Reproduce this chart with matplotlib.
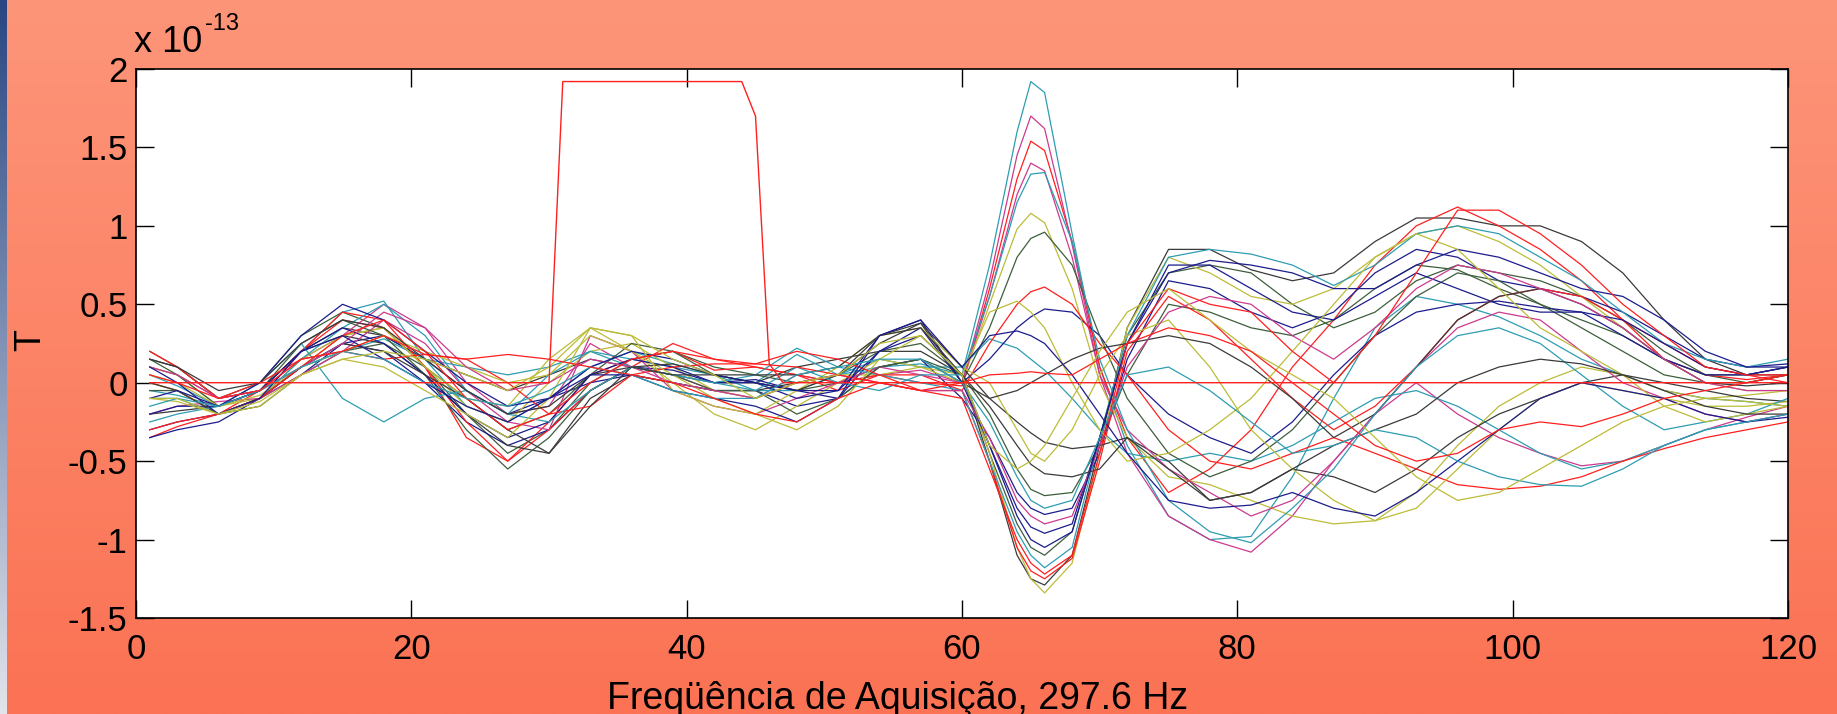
import numpy as np
import matplotlib
matplotlib.use("Agg")
import matplotlib.pyplot as plt

plt.rcParams['font.family'] = ['Liberation Sans', 'DejaVu Sans']

# sample index where each trace value was read
samples = [1, 3, 6, 9, 12, 15, 18, 21, 24, 27, 30, 33, 36, 39, 42, 45, 48, 51, 54, 57,
           60, 62, 64, 65, 66, 68, 70, 72,
           75, 78, 81, 84, 87, 90, 93, 96, 99, 102, 105, 108, 111, 114, 117, 120]

# traces (units of 1e-13 T), positive deflection around sample 65
p1_teal = [0.05, -0.02, -0.15, -0.05, 0.2, 0.45, 0.52, 0.15, -0.15, -0.25, -0.1, 0.1, 0.2, 0.12, 0.05, 0.0, 0.18, 0.05, 0.1, 0.12,
           0.05, 0.75, 1.6, 1.92, 1.85, 0.95, 0.1, -0.4,
           -0.85, -1.0, -0.98, -0.6, -0.1, 0.35, 0.55, 0.5, 0.42, 0.3, 0.15, 0.05, -0.05, -0.1, -0.12, -0.15]
p2_magenta = [0.1, 0.05, -0.1, -0.05, 0.15, 0.3, 0.5, 0.35, 0.0, -0.2, -0.15, 0.25, 0.1, 0.05, -0.05, -0.1, 0.05, 0.0, 0.05, 0.08,
              0.0, 0.65, 1.45, 1.7, 1.62, 0.88, 0.05, -0.45,
              -0.85, -1.0, -1.08, -0.85, -0.5, -0.2, 0.0, -0.2, -0.35, -0.45, -0.53, -0.5, -0.4, -0.3, -0.22, -0.15]
p3_red = [-0.35, -0.28, -0.2, -0.05, 0.2, 0.4, 0.35, 0.1, -0.35, -0.5, -0.25, 0.05, 0.15, 0.2, 0.08, 0.1, 0.05, -0.05, 0.05, 0.0,
          -0.02, 0.6, 1.3, 1.54, 1.48, 0.9, 0.1, -0.35,
          -0.7, -0.55, -0.3, 0.1, 0.4, 0.75, 1.0, 1.12, 1.0, 0.85, 0.65, 0.4, 0.15, 0.05, 0.02, 0.05]
p4_magenta = [-0.2, -0.15, -0.12, -0.1, 0.05, 0.2, 0.4, 0.25, -0.05, -0.25, -0.3, 0.3, 0.2, -0.05, -0.15, -0.2, -0.1, 0.0, 0.1, 0.05,
              0.0, 0.55, 1.2, 1.4, 1.35, 0.8, 0.05, -0.3,
              -0.55, -0.7, -0.85, -0.75, -0.5, -0.2, 0.1, 0.35, 0.45, 0.4, 0.2, 0.0, -0.1, -0.2, -0.25, -0.2]
p5_teal = [-0.25, -0.2, -0.15, 0.0, 0.25, -0.1, -0.25, -0.1, -0.05, -0.2, -0.25, -0.05, 0.1, 0.05, 0.0, -0.05, 0.1, 0.0, -0.05, 0.05,
           0.05, 0.55, 1.15, 1.33, 1.34, 0.9, 0.15, -0.3,
           -0.75, -0.95, -1.02, -0.8, -0.55, -0.2, 0.1, 0.3, 0.35, 0.25, 0.05, -0.15, -0.3, -0.25, -0.2, -0.1]
p6_olive = [0.0, -0.05, -0.2, -0.1, 0.15, 0.3, 0.35, 0.1, -0.1, -0.15, 0.15, 0.35, 0.2, 0.0, -0.2, -0.3, -0.15, 0.0, 0.15, 0.1,
            0.0, 0.5, 0.98, 1.08, 1.02, 0.6, 0.0, -0.35,
            -0.6, -0.65, -0.75, -0.85, -0.9, -0.88, -0.7, -0.4, -0.15, 0.0, 0.1, 0.05, -0.05, -0.1, -0.08, -0.05]
p7_green = [0.15, 0.05, -0.15, -0.05, 0.25, 0.4, 0.3, 0.05, -0.3, -0.55, -0.35, -0.05, 0.1, 0.05, -0.05, -0.05, -0.2, -0.1, 0.1, 0.15,
            0.0, 0.35, 0.8, 0.92, 0.96, 0.75, 0.3, -0.1,
            -0.45, -0.6, -0.5, -0.3, 0.0, 0.3, 0.55, 0.7, 0.65, 0.5, 0.35, 0.2, 0.05, 0.0, 0.0, 0.05]
p8_red = [0.2, 0.1, -0.1, 0.0, 0.15, 0.2, 0.15, 0.18, 0.15, 0.0, -0.2, -0.15, 0.05, 0.1, 0.12, 0.12, 0.2, 0.15, 0.05, -0.05,
          -0.05, 0.25, 0.5, 0.58, 0.61, 0.5, 0.25, 0.05,
          -0.3, -0.5, -0.55, -0.45, -0.35, -0.45, -0.55, -0.65, -0.68, -0.66, -0.6, -0.5, -0.42, -0.35, -0.3, -0.25]
p9_olive = [-0.1, -0.12, -0.2, -0.15, 0.05, 0.15, 0.1, -0.05, -0.2, -0.35, -0.1, 0.35, 0.3, -0.05, -0.15, -0.2, -0.3, -0.15, 0.15, 0.3,
            0.05, 0.45, 0.52, 0.45, 0.35, 0.0, -0.3, -0.5,
            -0.45, -0.3, -0.1, 0.2, 0.5, 0.8, 0.95, 0.85, 0.6, 0.35, 0.2, 0.05, -0.15, -0.25, -0.2, -0.15]
p10_navy = [-0.3, -0.25, -0.2, -0.1, 0.1, 0.25, 0.2, 0.0, -0.25, -0.4, -0.3, -0.05, 0.1, 0.08, 0.0, 0.02, -0.05, -0.1, 0.2, 0.35,
            0.0, 0.15, 0.35, 0.42, 0.47, 0.45, 0.3, 0.05,
            -0.2, -0.35, -0.45, -0.25, 0.05, 0.3, 0.45, 0.5, 0.52, 0.48, 0.45, 0.3, 0.15, 0.05, 0.05, 0.1]
p11_navy = [0.1, 0.0, -0.2, -0.1, 0.2, 0.3, 0.15, 0.0, -0.15, -0.25, -0.1, 0.05, 0.05, -0.05, -0.1, -0.15, -0.25, -0.1, 0.3, 0.4,
            0.1, 0.3, 0.33, 0.3, 0.25, 0.05, -0.2, -0.45,
            -0.75, -0.8, -0.78, -0.7, -0.8, -0.85, -0.7, -0.5, -0.3, -0.1, 0.0, -0.05, -0.1, -0.2, -0.25, -0.22]
p12_teal = [-0.05, -0.08, -0.15, -0.05, 0.1, 0.2, 0.28, 0.15, 0.1, 0.05, 0.1, 0.2, 0.15, 0.1, 0.05, -0.05, -0.05, 0.05, 0.15, 0.1,
            0.1, 0.28, 0.22, 0.15, 0.08, -0.1, -0.3, -0.45,
            -0.5, -0.45, -0.5, -0.4, -0.25, -0.1, -0.05, -0.15, -0.3, -0.45, -0.55, -0.5, -0.4, -0.3, -0.25, -0.2]
p13_gray = [0.0, -0.05, -0.2, -0.1, 0.1, 0.25, 0.2, 0.05, -0.1, -0.3, -0.45, -0.15, 0.1, 0.12, 0.05, 0.0, -0.05, 0.05, 0.25, 0.38,
            0.1, -0.1, -0.05, 0.0, 0.05, 0.15, 0.22, 0.25,
            0.3, 0.25, 0.1, -0.1, -0.35, -0.2, 0.1, 0.4, 0.55, 0.6, 0.5, 0.35, 0.15, 0.0, -0.02, 0.0]
p14_red = [0.05, 0.0, -0.1, -0.05, 0.15, 0.2, 0.3, 0.18, 0.15, 0.18, 0.15, 0.1, 0.05, 0.0, -0.1, -0.2, -0.25, -0.1, 0.0, -0.05,
           0.0, 0.05, 0.06, 0.07, 0.06, 0.05, 0.15, 0.25,
           0.35, 0.3, 0.2, 0.0, -0.2, -0.4, -0.5, -0.45, -0.3, -0.25, -0.28, -0.2, -0.1, -0.05, 0.0, 0.05]

# traces with negative deflection around sample 66
n1_olive = [0.1, 0.05, -0.15, -0.1, 0.1, 0.3, 0.35, 0.1, -0.15, -0.25, 0.0, 0.2, 0.25, 0.1, -0.05, -0.1, 0.0, 0.05, 0.05, 0.1,
            0.05, -0.45, -1.05, -1.25, -1.34, -1.15, -0.45, 0.35,
            0.8, 0.7, 0.55, 0.5, 0.6, 0.8, 0.95, 1.0, 0.9, 0.75, 0.55, 0.35, 0.15, 0.0, -0.05, -0.05]
n2_gray = [0.15, 0.1, -0.1, -0.05, 0.2, 0.35, 0.3, 0.15, 0.05, -0.05, 0.05, 0.15, 0.1, 0.05, 0.0, 0.0, 0.1, 0.15, 0.2, 0.2,
           0.05, -0.5, -1.1, -1.25, -1.29, -1.1, -0.4, 0.35,
           0.85, 0.85, 0.72, 0.65, 0.7, 0.9, 1.05, 1.05, 1.0, 1.0, 0.9, 0.7, 0.4, 0.15, 0.05, 0.05]
n3_red = [-0.3, -0.25, -0.2, -0.1, 0.1, 0.3, 0.4, 0.2, -0.1, -0.3, -0.2, 0.0, 0.15, 0.2, 0.15, 0.12, 0.1, 0.05, 0.0, -0.05,
          -0.1, -0.55, -1.0, -1.15, -1.22, -1.1, -0.45, 0.25,
          0.6, 0.5, 0.45, 0.2, 0.0, 0.3, 0.7, 1.1, 1.1, 0.95, 0.75, 0.5, 0.3, 0.1, 0.05, 0.0]
n4_teal = [-0.1, -0.1, -0.2, -0.1, 0.15, 0.35, 0.5, 0.3, -0.05, -0.2, 0.05, 0.2, 0.1, 0.05, 0.0, 0.05, 0.22, 0.1, 0.05, 0.0,
           -0.05, -0.5, -0.95, -1.1, -1.18, -1.05, -0.35, 0.3,
           0.8, 0.85, 0.82, 0.75, 0.62, 0.75, 0.95, 1.0, 0.95, 0.8, 0.65, 0.45, 0.25, 0.15, 0.1, 0.15]
n5_green = [0.2, 0.1, -0.1, 0.0, 0.3, 0.45, 0.35, 0.1, -0.2, -0.45, -0.3, 0.0, 0.15, 0.2, 0.1, 0.05, 0.0, 0.05, 0.2, 0.25,
            0.05, -0.45, -0.9, -1.05, -1.1, -0.95, -0.35, 0.3,
            0.7, 0.75, 0.7, 0.5, 0.35, 0.45, 0.65, 0.75, 0.7, 0.65, 0.55, 0.4, 0.2, 0.05, 0.0, 0.05]
n6_navy = [-0.2, -0.15, -0.15, -0.05, 0.2, 0.35, 0.25, 0.05, -0.2, -0.35, -0.25, 0.05, 0.15, 0.1, 0.0, 0.0, -0.1, -0.05, 0.3, 0.4,
           0.0, -0.4, -0.8, -0.92, -0.96, -0.9, -0.35, 0.25,
           0.75, 0.75, 0.6, 0.45, 0.4, 0.55, 0.7, 0.6, 0.5, 0.45, 0.45, 0.4, 0.25, 0.1, 0.05, 0.1]
n7_magenta = [0.1, 0.05, -0.1, -0.05, 0.1, 0.25, 0.45, 0.35, 0.1, -0.05, 0.0, 0.15, 0.1, 0.0, -0.05, -0.1, 0.0, 0.05, 0.0, -0.05,
              -0.05, -0.35, -0.75, -0.85, -0.9, -0.85, -0.4, 0.1,
              0.45, 0.55, 0.5, 0.3, 0.15, 0.35, 0.6, 0.75, 0.7, 0.6, 0.5, 0.35, 0.15, 0.0, -0.05, -0.05]
n8_navy = [-0.35, -0.3, -0.25, -0.1, 0.05, 0.25, 0.3, 0.15, -0.05, -0.2, -0.1, 0.0, 0.05, 0.0, -0.05, -0.05, -0.15, -0.1, 0.1, 0.15,
           -0.1, -0.35, -0.7, -0.8, -0.84, -0.8, -0.45, 0.15,
           0.65, 0.6, 0.45, 0.35, 0.45, 0.7, 0.85, 0.8, 0.65, 0.6, 0.55, 0.45, 0.3, 0.15, 0.1, 0.12]
n9_green = [-0.05, -0.05, -0.2, -0.15, 0.05, 0.2, 0.25, 0.1, -0.1, -0.3, -0.2, 0.05, 0.25, 0.2, 0.05, 0.0, -0.05, 0.0, 0.1, 0.15,
            0.05, -0.2, -0.55, -0.68, -0.72, -0.7, -0.4, 0.05,
            0.5, 0.45, 0.35, 0.3, 0.4, 0.6, 0.75, 0.72, 0.6, 0.5, 0.4, 0.3, 0.15, 0.05, 0.05, 0.1]
n10_gray = [0.15, 0.1, -0.05, 0.0, 0.25, 0.4, 0.35, 0.15, -0.05, -0.2, -0.15, 0.05, 0.1, 0.05, 0.05, 0.05, 0.05, 0.1, 0.3, 0.35,
            0.05, -0.15, -0.4, -0.52, -0.58, -0.6, -0.55, -0.35,
            -0.55, -0.75, -0.7, -0.55, -0.4, -0.3, -0.2, 0.0, 0.1, 0.15, 0.12, 0.05, -0.05, -0.15, -0.2, -0.2]
n11_olive = [-0.1, -0.1, -0.2, -0.12, 0.05, 0.15, 0.2, 0.15, 0.05, -0.05, 0.1, 0.35, 0.3, 0.15, 0.05, -0.1, 0.0, 0.05, 0.25, 0.3,
             0.05, -0.4, -0.55, -0.5, -0.4, -0.1, 0.2, 0.45,
             0.6, 0.4, 0.2, 0.05, -0.1, -0.35, -0.6, -0.75, -0.7, -0.55, -0.4, -0.25, -0.15, -0.1, -0.12, -0.15]
n12_gray = [-0.2, -0.18, -0.15, -0.05, 0.2, 0.3, 0.25, 0.05, -0.2, -0.4, -0.45, -0.1, 0.05, 0.0, -0.05, -0.05, 0.0, 0.05, 0.3, 0.38,
            0.0, -0.1, -0.25, -0.32, -0.38, -0.42, -0.4, -0.35,
            -0.5, -0.75, -0.7, -0.55, -0.6, -0.7, -0.55, -0.35, -0.2, -0.1, 0.0, 0.05, 0.0, -0.05, -0.1, -0.12]
n13_red = [0.0, -0.05, -0.2, -0.1, 0.2, 0.45, 0.4, 0.1, -0.25, -0.5, -0.3, -0.05, 0.1, 0.25, 0.15, 0.1, 0.05, 0.0, 0.05, 0.05,
           -0.05, -0.5, -1.05, -1.2, -1.25, -1.12, -0.5, 0.2,
           0.55, 0.4, 0.15, -0.1, -0.3, -0.15, 0.1, 0.4, 0.55, 0.6, 0.55, 0.4, 0.25, 0.1, 0.05, 0.05]
n14_navy = [-0.1, -0.05, -0.15, 0.0, 0.3, 0.5, 0.4, 0.2, 0.0, -0.15, -0.1, 0.1, 0.2, 0.15, 0.05, 0.0, -0.05, -0.05, 0.2, 0.3,
            0.05, -0.4, -0.85, -1.0, -1.05, -0.95, -0.35, 0.25,
            0.7, 0.78, 0.75, 0.7, 0.6, 0.6, 0.75, 0.85, 0.8, 0.7, 0.6, 0.55, 0.4, 0.2, 0.1, 0.1]
x1_olive = [0.05, 0.0, -0.15, -0.08, 0.1, 0.2, 0.3, 0.2, 0.1, 0.0, 0.05, 0.3, 0.2, 0.05, -0.1, -0.2, -0.05, 0.1, 0.3, 0.35,
            0.1, 0.0, -0.3, -0.45, -0.5, -0.3, 0.05, 0.3,
            0.4, 0.1, -0.3, -0.55, -0.75, -0.88, -0.8, -0.55, -0.3, -0.1, 0.0, -0.05, -0.1, -0.15, -0.15, -0.12]
x2_teal = [-0.15, -0.1, -0.15, -0.05, 0.1, 0.2, 0.15, 0.0, -0.1, -0.15, -0.05, 0.1, 0.05, -0.05, -0.1, -0.1, 0.05, 0.1, 0.15, 0.15,
           0.0, -0.25, -0.6, -0.75, -0.8, -0.75, -0.35, 0.05,
           0.1, -0.05, -0.25, -0.45, -0.4, -0.3, -0.35, -0.5, -0.6, -0.65, -0.66, -0.55, -0.4, -0.3, -0.25, -0.2]

# trigger channel
trig_x = [1, 30, 31, 44, 45, 46, 47, 120]
trig_y = [0, 0, 1.92, 1.92, 1.7, 0.12, 0, 0]

navy = '#1c1c8c'
green = '#3d5e3d'
red = '#ff1f1f'
teal = '#2e9db2'
magenta = '#cc3a8e'
olive = '#bcbc38'
gray = '#3a3a3a'

traces = [
    (n2_gray, gray), (p1_teal, teal), (n5_green, green), (p3_red, red), (n8_navy, navy),
    (p2_magenta, magenta), (n1_olive, olive), (p12_teal, teal), (n9_green, green), (p10_navy, navy),
    (n13_red, red), (p6_olive, olive), (n12_gray, gray), (p4_magenta, magenta), (n4_teal, teal),
    (p7_green, green), (n6_navy, navy), (p8_red, red), (x1_olive, olive), (p13_gray, gray),
    (n7_magenta, magenta), (p5_teal, teal), (n14_navy, navy), (p9_olive, olive), (n10_gray, gray),
    (n3_red, red), (p11_navy, navy), (x2_teal, teal), (n11_olive, olive), (p14_red, red),
]

W, H = 1837, 714
fig = plt.figure(figsize=(W / 100, H / 100), dpi=100)

# slide background: salmon gradient plus thin bluish strip on the left edge
bg = fig.add_axes([0, 0, 1, 1], zorder=-10)
top_c = np.array([253, 149, 121]) / 255
bot_c = np.array([251, 114, 84]) / 255
t = np.linspace(0, 1, 256)[:, None, None]
grad = top_c * (1 - t) + bot_c * t
bg.imshow(np.repeat(grad, 2, axis=1), aspect='auto', extent=[0, W, H, 0])
strip_top = np.array([40, 70, 130]) / 255
strip_bot = np.array([225, 228, 235]) / 255
s = np.linspace(0, 1, 256)[:, None, None]
strip = strip_top * (1 - s) + strip_bot * s
bg.imshow(np.repeat(strip, 2, axis=1), aspect='auto', extent=[0, 7, H, 0])
bg.set_xlim(0, W)
bg.set_ylim(H, 0)
bg.axis('off')

ax = fig.add_axes([136 / W, 1 - 618 / H, (1788 - 136) / W, (618 - 69) / H])
for vals, col in traces:
    ax.plot(samples, vals, color=col, lw=0.9)
ax.plot(trig_x, trig_y, color=red, lw=1.0)

ax.set_xlim(0, 120)
ax.set_ylim(-1.5, 2)
ax.set_xticks([0, 20, 40, 60, 80, 100, 120])
ax.set_yticks([-1.5, -1, -0.5, 0, 0.5, 1, 1.5, 2])
ax.set_yticklabels(['-1.5', '-1', '-0.5', '0', '0.5', '1', '1.5', '2'])
ax.tick_params(direction='in', length=13, width=1, top=True, right=True,
               labelsize=25, colors='black')
ax.tick_params(axis='x', pad=11)
ax.tick_params(axis='y', pad=6)
for sp in ax.spines.values():
    sp.set_linewidth(1.2)

fig.text(134 / W, 1 - 52 / H, 'x 10', fontsize=26, ha='left', va='baseline')
fig.text(205 / W, 1 - 30 / H, '-13', fontsize=17, ha='left', va='baseline')
fig.text(31 / W, 1 - 340 / H, 'T', fontsize=26, rotation=90, ha='center', va='center')
fig.text(898 / W, 1 - 709 / H, 'Freqüência de Aquisição, 297.6 Hz', fontsize=27,
         ha='center', va='baseline')

fig.savefig('out.png', dpi=100)
